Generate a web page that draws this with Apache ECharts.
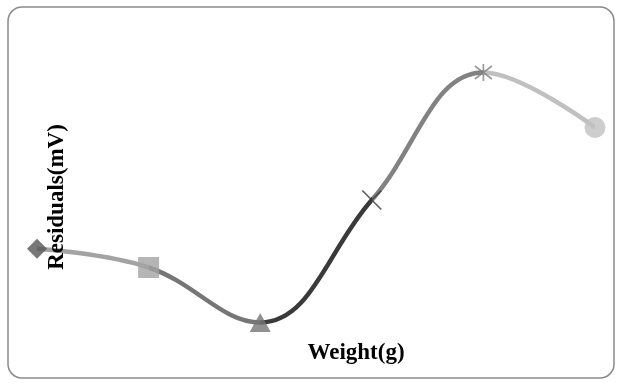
<!DOCTYPE html>
<html>
<head>
<meta charset="utf-8">
<script src="https://cdn.jsdelivr.net/npm/echarts@6/dist/echarts.min.js"></script>
<style>
  html, body { margin: 0; padding: 0; background: #fff; }
  #chart { width: 622px; height: 385px; }
</style>
</head>
<body>
<div id="chart"></div>
<script>
// Calibration points: applied weight and measured residual
const weights = [10, 20, 30, 40, 50, 60];
const residuals = [0.01, -0.14, -0.58, 0.40, 1.42, 0.98];

// Per-point marker shapes and shades (segment i ends at point i+1, using its shade)
const markerSymbols = ['diamond', 'rect', 'triangle',
  'path://M0,0L10,10M10,0L0,10',
  'path://M0,0L10,10M10,0L0,10M5,-1.5L5,11.5',
  'circle'];
const pointShades = ['#555555', '#a3a3a3', '#767676', '#3a3a3a', '#828282', '#c0c0c0'];
const markerSizes = [[20, 20], [21, 21], [21, 19], [19, 19], [17, 17], [21, 21]];

const linePoints = weights.map((w, i) => [w, residuals[i]]);

const markerPoints = weights.map((w, i) => {
  const stroked = i === 3 || i === 4;
  return {
    value: [w, residuals[i]],
    symbol: markerSymbols[i],
    symbolSize: markerSizes[i],
    itemStyle: stroked
      ? { color: 'none', borderColor: pointShades[i], borderWidth: 1.7 }
      : { color: pointShades[i] }
  };
});

// Colour each span of the curve by the point it runs into
const pieces = [];
for (let i = 0; i < weights.length - 1; i++) {
  const p = { gte: weights[i], color: pointShades[i + 1] };
  if (i < weights.length - 2) p.lt = weights[i + 1]; else p.lte = weights[i + 1];
  pieces.push(p);
}

const chart = echarts.init(document.getElementById('chart'), null, { renderer: 'canvas' });
chart.setOption({
  animation: false,
  backgroundColor: '#ffffff',
  grid: { left: 37, right: 27, top: 0, bottom: 10 },
  xAxis: {
    type: 'value', min: weights[0], max: weights[weights.length - 1],
    axisLine: { show: false }, axisTick: { show: false },
    axisLabel: { show: false }, splitLine: { show: false }
  },
  yAxis: {
    type: 'value', min: -1, max: 2,
    axisLine: { show: false }, axisTick: { show: false },
    axisLabel: { show: false }, splitLine: { show: false }
  },
  visualMap: {
    show: false, type: 'piecewise', dimension: 0, seriesIndex: 0, pieces: pieces
  },
  series: [
    {
      type: 'line',
      data: linePoints,
      smooth: 0.4,
      showSymbol: false,
      lineStyle: { width: 4.5 },
      z: 2
    },
    {
      type: 'scatter',
      data: markerPoints,
      z: 3
    }
  ],
  graphic: [
    {
      type: 'rect',
      shape: { x: 8, y: 7, width: 606, height: 371, r: 14 },
      style: { fill: 'none', stroke: '#8a8a8a', lineWidth: 1.5 },
      z: 0, silent: true
    },
    {
      type: 'text',
      x: 57, y: 197, rotation: Math.PI / 2,
      style: {
        text: 'Residuals(mV)',
        font: 'bold 23px "Liberation Serif", "Times New Roman", serif',
        fill: '#000', align: 'center', verticalAlign: 'middle'
      },
      z: 10
    },
    {
      type: 'text',
      x: 356, y: 353,
      style: {
        text: 'Weight(g)',
        font: 'bold 23px "Liberation Serif", "Times New Roman", serif',
        fill: '#000', align: 'center', verticalAlign: 'middle'
      },
      z: 10
    }
  ]
});
</script>
</body>
</html>
